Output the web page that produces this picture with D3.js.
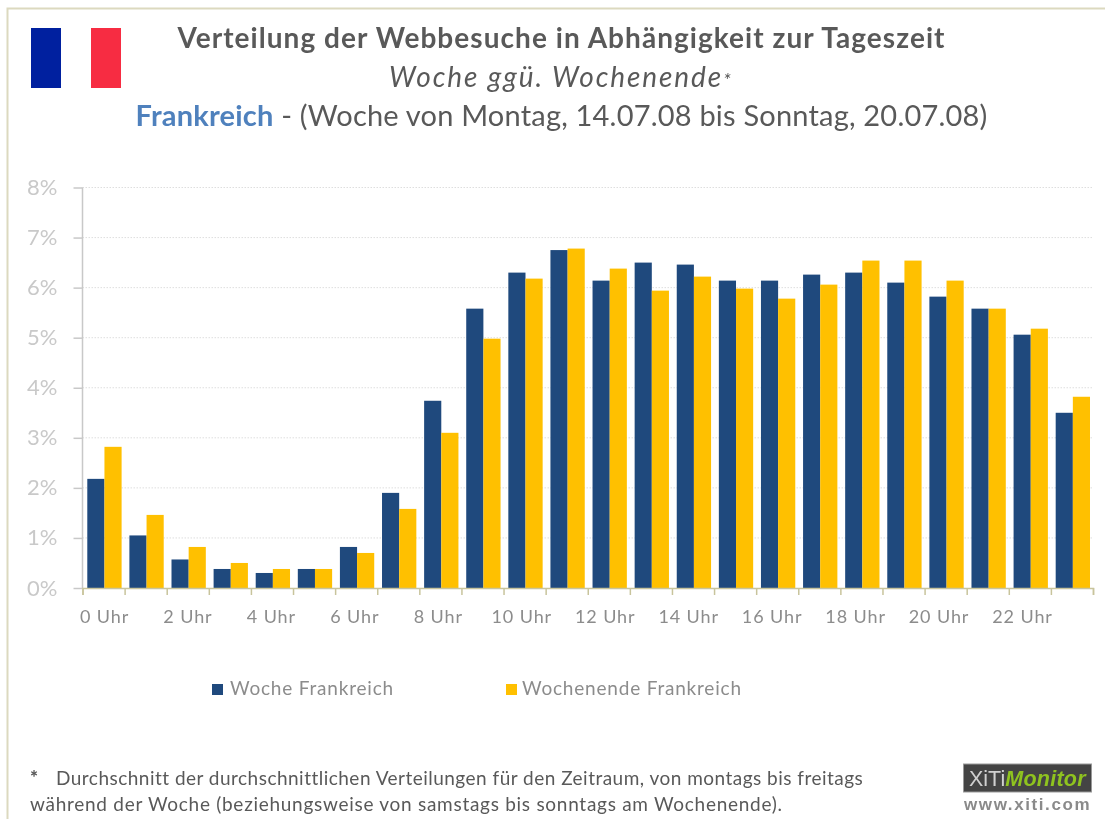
<!DOCTYPE html>
<html>
<head>
<meta charset="utf-8">
<script src="https://cdn.jsdelivr.net/npm/d3@7"></script>
<style>
html, body { margin: 0; padding: 0; background: #fff; }
svg { display: block; font-family: Lato, sans-serif; }
.blur { filter: blur(0.4px); }
</style>
</head>
<body>
<div class="chart"></div>
<script>
const WIDTH = 1105;
const HEIGHT = 819;
const MARGIN = {TOP: 187.5, BOTTOM: 231, RIGHT: 12, LEFT: 82.5};
const innerWidth = WIDTH - MARGIN.LEFT - MARGIN.RIGHT;
const innerHeight = HEIGHT - MARGIN.TOP - MARGIN.BOTTOM;

const hours = d3.range(0, 24);
const labelHours = hours.filter(h => h % 2 === 0);
const seriesNames = ['Woche Frankreich', 'Wochenende Frankreich'];
const woche = [2.18, 1.05, 0.57, 0.38, 0.30, 0.38, 0.82, 1.90, 3.74, 5.58, 6.30, 6.75,
    6.14, 6.50, 6.46, 6.14, 6.14, 6.26, 6.30, 6.10, 5.82, 5.58, 5.06, 3.50];
const wochenende = [2.82, 1.46, 0.82, 0.50, 0.38, 0.38, 0.70, 1.58, 3.10, 4.98, 6.18, 6.78,
    6.38, 5.94, 6.22, 5.98, 5.78, 6.06, 6.54, 6.54, 6.14, 5.58, 5.18, 3.82];
const colors = ['#1f497d', '#ffc000'];
const yTicks = [0, 1, 2, 3, 4, 5, 6, 7, 8];

const xScale = d3.scaleBand().domain(hours).range([0, innerWidth]).paddingInner(0.185).paddingOuter(0.0925).align(0.615);
const xSub = d3.scaleBand().domain([0, 1]).range([0, xScale.bandwidth()]);
const xEdge = d3.scaleLinear().domain([0, 24]).range([0, innerWidth]);
// the labels in the picture run a bit tighter than the bars
const xLabel = d3.scalePoint().domain(labelHours).range([21.5, 939.5]);
const yScale = d3.scaleLinear().domain([0, 8]).range([innerHeight, 0]);

const svg = d3.select('.chart').append('svg')
    .attr('width', WIDTH)
    .attr('height', HEIGHT);

// frame, only top and left are visible
svg.append('path')
    .attr('d', 'M7.5,819V8.5H1105')
    .attr('fill', 'none')
    .attr('stroke', '#dcd9bf')
    .attr('stroke-width', 2);

// flag
svg.append('rect').attr('x', 31).attr('y', 28).attr('width', 30).attr('height', 60).attr('fill', '#00209f');
svg.append('rect').attr('x', 91).attr('y', 28).attr('width', 30).attr('height', 60).attr('fill', '#f72c42');

// titles
const titles = svg.append('g').attr('class', 'blur').attr('text-anchor', 'middle').attr('fill', '#595959');
titles.append('text').attr('x', 561.5).attr('y', 48)
    .attr('font-size', 28).attr('font-weight', 700).attr('letter-spacing', 1.05)
    .text('Verteilung der Webbesuche in Abhängigkeit zur Tageszeit');
const line2 = titles.append('text').attr('x', 561).attr('y', 87)
    .attr('font-size', 28).attr('font-style', 'italic').attr('letter-spacing', 1.9);
line2.append('tspan').text('Woche ggü. Wochenende');
line2.append('tspan').attr('font-size', 20).text('*');
const line3 = titles.append('text').attr('x', 561.5).attr('y', 126)
    .attr('font-size', 29).attr('letter-spacing', 0.2);
line3.append('tspan').attr('font-weight', 700).attr('fill', '#4f81bd').text('Frankreich');
line3.append('tspan').text(' - (Woche von Montag, 14.07.08 bis Sonntag, 20.07.08)');

const mainGroup = svg.append('g')
    .attr('transform', 'translate(' + MARGIN.LEFT + ',' + MARGIN.TOP + ')');

// grid
mainGroup.append('g').selectAll('line')
    .data(yTicks.slice(1))
    .join('line')
    .attr('x1', 0)
    .attr('x2', innerWidth)
    .attr('y1', d => yScale(d))
    .attr('y2', d => yScale(d))
    .attr('stroke', '#dedede')
    .attr('stroke-dasharray', '1.5,1.5');

// bars
[woche, wochenende].forEach(function (values, s) {
    mainGroup.append('g').selectAll('rect')
        .data(values)
        .join('rect')
        .attr('x', (d, i) => xScale(hours[i]) + xSub(s))
        .attr('y', d => yScale(d))
        .attr('width', xSub.bandwidth())
        .attr('height', d => innerHeight - yScale(d))
        .attr('fill', colors[s]);
});

// y axis
const yAxisG = mainGroup.append('g').call(d3.axisLeft(yScale)
    .tickValues(yTicks)
    .tickSize(9)
    .tickPadding(16)
    .tickFormat(d => d + '%'));
yAxisG.selectAll('path,line').attr('stroke', '#c8c8c8').attr('stroke-width', 1.5);
yAxisG.select('.domain').attr('d', 'M0,0V' + innerHeight);
yAxisG.selectAll('text')
    .attr('class', 'blur')
    .attr('font-family', 'Lato, sans-serif')
    .attr('font-size', 22)
    .attr('fill', '#c9c9c9');

// x axis: tick marks sit on the category edges, labels under the categories
const xTickG = mainGroup.append('g')
    .attr('transform', 'translate(0,' + innerHeight + ')')
    .call(d3.axisBottom(xEdge).tickValues(d3.range(0, 25)).tickSize(7).tickFormat(''));
xTickG.selectAll('path,line').attr('stroke', '#c8c49c').attr('stroke-width', 1.5);

const xLabelG = mainGroup.append('g')
    .attr('transform', 'translate(0,' + innerHeight + ')')
    .call(d3.axisBottom(xLabel)
        .tickSize(0)
        .tickPadding(22)
        .tickFormat(d => d + ' Uhr'));
xLabelG.select('.domain').remove();
xLabelG.selectAll('text')
    .attr('class', 'blur')
    .attr('font-family', 'Lato, sans-serif')
    .attr('font-size', 18)
    .attr('letter-spacing', 0.9)
    .attr('fill', '#8c8c8c');

// legend
const legendX = [212, 506];
const legend = svg.append('g').selectAll('g')
    .data(seriesNames)
    .join('g')
    .attr('transform', (d, i) => 'translate(' + legendX[i] + ',684)');
legend.append('rect')
    .attr('width', 11)
    .attr('height', 11)
    .attr('fill', (d, i) => colors[i]);
legend.append('text')
    .attr('class', 'blur')
    .attr('x', (d, i) => i === 0 ? 18 : 16)
    .attr('y', 11)
    .attr('font-size', 19)
    .attr('letter-spacing', 0.8)
    .attr('fill', '#8c8c8c')
    .text(d => d);

// footnote
const foot = svg.append('g').attr('class', 'blur').attr('font-size', 19).attr('fill', '#595959');
foot.append('text').attr('x', 30).attr('y', 784).attr('font-weight', 900).text('*');
foot.append('text').attr('x', 56).attr('y', 785).attr('letter-spacing', 0.48)
    .text('Durchschnitt der durchschnittlichen Verteilungen für den Zeitraum, von montags bis freitags');
foot.append('text').attr('x', 30).attr('y', 811).attr('letter-spacing', 0.72)
    .text('während der Woche (beziehungsweise von samstags bis sonntags am Wochenende).');

// logo
const logo = svg.append('g').attr('class', 'blur');
logo.append('rect').attr('x', 963.5).attr('y', 764).attr('width', 128).attr('height', 28)
    .attr('fill', '#444').attr('stroke', '#999');
const logoText = logo.append('text').attr('x', 969).attr('y', 786)
    .attr('font-family', 'Liberation Sans, sans-serif').attr('font-size', 21.5);
logoText.append('tspan').attr('fill', '#d0d0d0').text('XiTi');
logoText.append('tspan').attr('fill', '#8fc31f').attr('font-style', 'italic').attr('font-weight', 700)
    .attr('letter-spacing', 0.25).text('Monitor');
logo.append('text').attr('x', 964).attr('y', 810)
    .attr('font-family', 'Liberation Sans, sans-serif').attr('font-size', 17).attr('font-weight', 700)
    .attr('letter-spacing', 1.6).attr('fill', '#8a8a8a').text('www.xiti.com');
</script>
</body>
</html>
